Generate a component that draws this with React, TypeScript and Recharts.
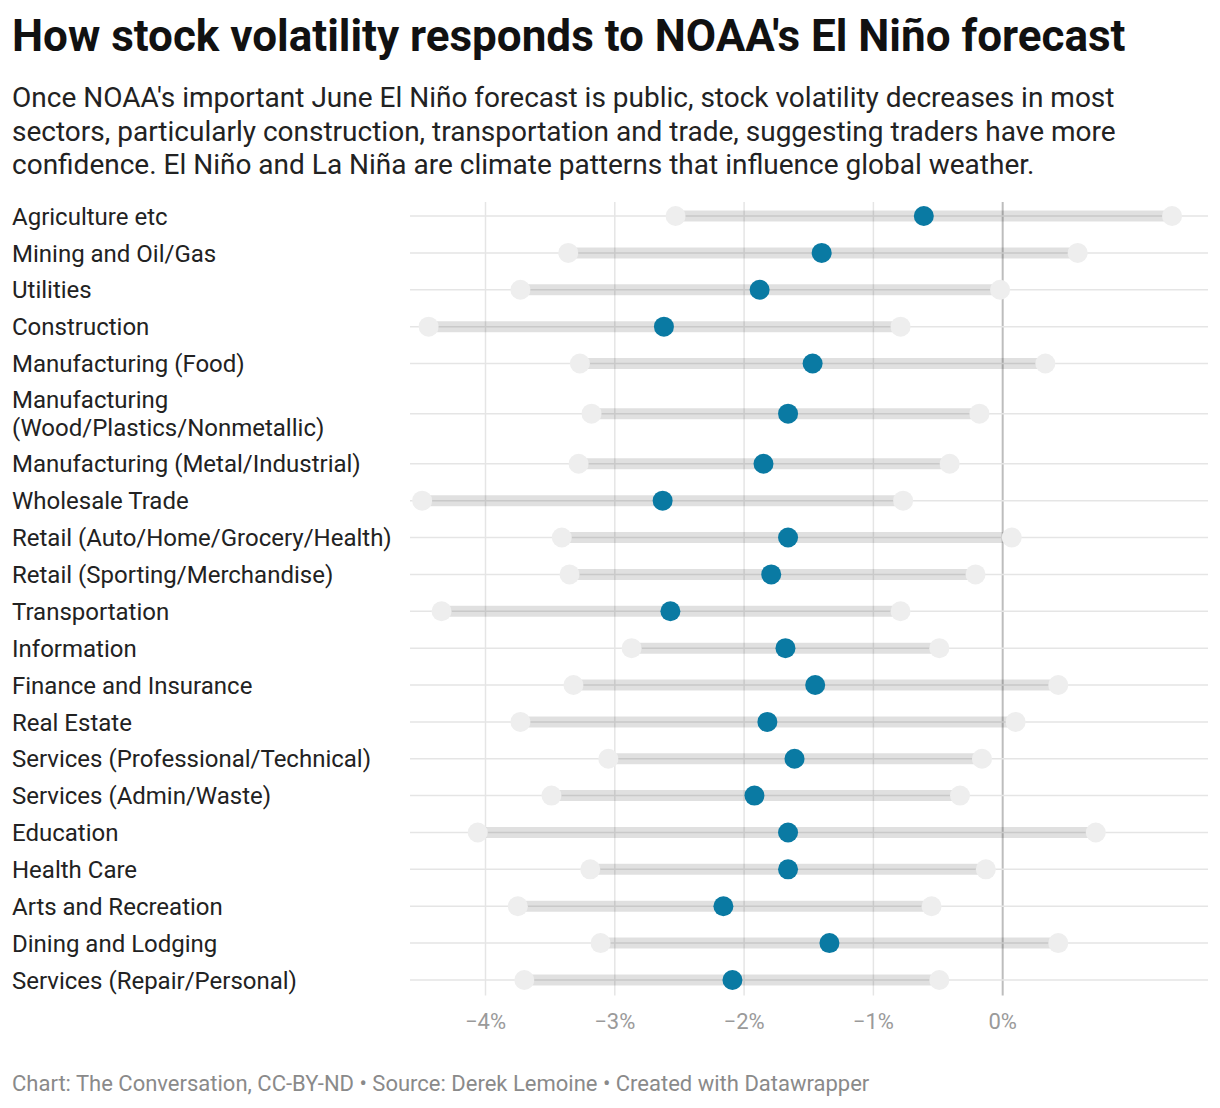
import { ScatterChart, Scatter, XAxis, YAxis, ReferenceLine } from "recharts";

const sectors = [
  "Agriculture etc",
  "Mining and Oil/Gas",
  "Utilities",
  "Construction",
  "Manufacturing (Food)",
  "Manufacturing\n(Wood/Plastics/Nonmetallic)",
  "Manufacturing (Metal/Industrial)",
  "Wholesale Trade",
  "Retail (Auto/Home/Grocery/Health)",
  "Retail (Sporting/Merchandise)",
  "Transportation",
  "Information",
  "Finance and Insurance",
  "Real Estate",
  "Services (Professional/Technical)",
  "Services (Admin/Waste)",
  "Education",
  "Health Care",
  "Arts and Recreation",
  "Dining and Lodging",
  "Services (Repair/Personal)",
];

const lowValues = [
  -2.53, -3.36, -3.73, -4.44, -3.27, -3.18, -3.28, -4.49, -3.41, -3.35, -4.34,
  -2.87, -3.32, -3.73, -3.05, -3.49, -4.06, -3.19, -3.75, -3.11, -3.7,
];
const estimateValues = [
  -0.61, -1.4, -1.88, -2.62, -1.47, -1.66, -1.85, -2.63, -1.66, -1.79, -2.57,
  -1.68, -1.45, -1.82, -1.61, -1.92, -1.66, -1.66, -2.16, -1.34, -2.09,
];
const highValues = [
  1.31, 0.58, -0.02, -0.79, 0.33, -0.18, -0.41, -0.77, 0.07, -0.21, -0.79,
  -0.49, 0.43, 0.1, -0.16, -0.33, 0.72, -0.13, -0.55, 0.43, -0.49,
];
const xTicks = [-4, -3, -2, -1, 0];

// two-line labels get a taller row
const rowHeights = sectors.map((s) => (s.includes("\n") ? 1.72 : 1));
const rowPos: number[] = [];
let acc = 0;
rowHeights.forEach((h) => {
  rowPos.push(acc + h / 2);
  acc += h;
});
const totalRows = acc;

const lowData = sectors.map((_, i) => ({ x: lowValues[i], y: rowPos[i] }));
const highData = sectors.map((_, i) => ({ x: highValues[i], y: rowPos[i] }));
const estData = sectors.map((_, i) => ({ x: estimateValues[i], y: rowPos[i] }));

const FONT = "Roboto, 'Noto Sans', sans-serif";

const fmtPct = (v: number) => (v < 0 ? "\u2212" : "") + Math.abs(v) + "%";

const SectorTick = (props: any) => {
  const { y, index } = props;
  const lines = sectors[index].split("\n");
  const lh = 28;
  const start = y - ((lines.length - 1) * lh) / 2;
  return (
    <text x={12} y={start} fontSize={24} fill="#222" fontFamily={FONT} textAnchor="start">
      {lines.map((l, k) => (
        <tspan key={k} x={12} y={start + k * lh} dy="0.36em">
          {l}
        </tspan>
      ))}
    </text>
  );
};

const dot = (fill: string) => (p: any) => <circle cx={p.cx} cy={p.cy} r={10} fill={fill} />;

export default function App() {
  return (
    <div
      style={{
        position: "absolute",
        left: 0,
        top: 0,
        width: 1220,
        height: 1108,
        background: "#fff",
        fontFamily: FONT,
      }}
    >
      <div
        style={{
          position: "absolute",
          left: 12,
          top: 14,
          fontSize: 44,
          lineHeight: "44px",
          fontWeight: 700,
          color: "#111",
          whiteSpace: "nowrap",
        }}
      >
        How stock volatility responds to NOAA's El Niño forecast
      </div>
      <div
        style={{
          position: "absolute",
          left: 12,
          top: 81,
          fontSize: 28,
          lineHeight: "33.5px",
          color: "#222",
          whiteSpace: "nowrap",
        }}
      >
        Once NOAA's important June El Niño forecast is public, stock volatility decreases in most
        <br />
        sectors, particularly construction, transportation and trade, suggesting traders have more
        <br />
        confidence. El Niño and La Niña are climate patterns that influence global weather.
      </div>
      <div style={{ position: "absolute", left: 0, top: 0 }}>
        <ScatterChart
          width={1220}
          height={1108}
          margin={{ top: 197.6, right: 12, bottom: 69.6, left: 0 }}
        >
          <XAxis
            type="number"
            dataKey="x"
            domain={[-4.584, 1.588]}
            ticks={xTicks}
            tickFormatter={fmtPct}
            axisLine={false}
            tickLine={false}
            height={40}
            tickMargin={9}
            tick={{ fontSize: 22, fill: "#9a9a9a", fontFamily: FONT }}
            allowDataOverflow
          />
          <YAxis
            type="number"
            dataKey="y"
            domain={[0, totalRows]}
            reversed
            ticks={rowPos}
            interval={0}
            width={410}
            axisLine={false}
            tickLine={false}
            tick={<SectorTick />}
            allowDataOverflow
          />
          {xTicks.map((t) => (
            <ReferenceLine
              key={"vx" + t}
              segment={[
                { x: t, y: 0.12 },
                { x: t, y: totalRows - 0.08 },
              ]}
              stroke={t === 0 ? "#bdbdbd" : "#e5e5e5"}
              strokeWidth={t === 0 ? 2 : 1.5}
            />
          ))}
          {rowPos.map((p) => (
            <ReferenceLine key={"hy" + p} y={p} stroke="#e5e5e5" strokeWidth={1.5} />
          ))}
          {sectors.map((s, i) => (
            <ReferenceLine
              key={s}
              segment={[
                { x: lowValues[i], y: rowPos[i] },
                { x: highValues[i], y: rowPos[i] },
              ]}
              stroke="#000"
              strokeOpacity={0.12}
              strokeWidth={11}
            />
          ))}
          <Scatter data={lowData} shape={dot("#eeeeee")} isAnimationActive={false} />
          <Scatter data={highData} shape={dot("#eeeeee")} isAnimationActive={false} />
          <Scatter data={estData} shape={dot("#0a7aa3")} isAnimationActive={false} />
        </ScatterChart>
      </div>
      <div
        style={{
          position: "absolute",
          left: 12,
          top: 1073,
          fontSize: 22,
          lineHeight: "22px",
          color: "#8a8a8a",
          whiteSpace: "nowrap",
        }}
      >
        Chart: The Conversation, CC-BY-ND • Source: Derek Lemoine • Created with Datawrapper
      </div>
    </div>
  );
}
